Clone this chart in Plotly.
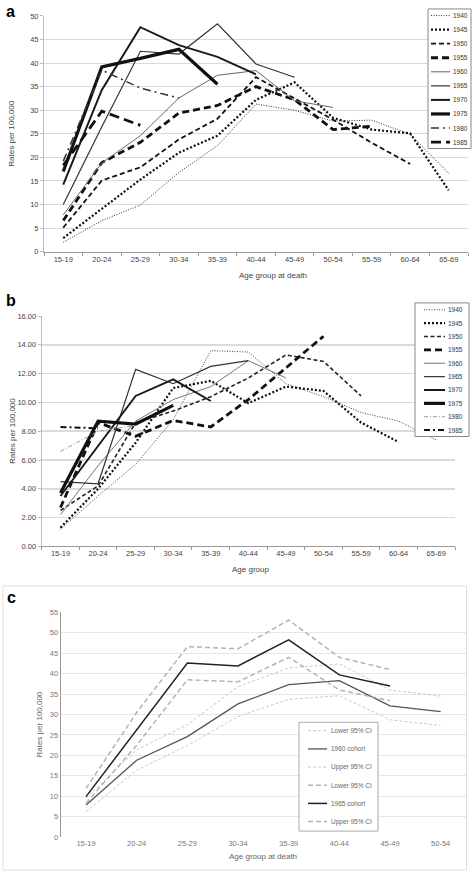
import plotly.graph_objects as go

W, H = 472, 877

# ---------------- data ----------------
ages = ["15-19", "20-24", "25-29", "30-34", "35-39", "40-44",
        "45-49", "50-54", "55-59", "60-64", "65-69"]
ages_c = ages[:8]
cohorts = ["1940", "1945", "1950", "1955", "1960",
           "1965", "1970", "1975", "1980", "1985"]

# panel a : rates per 100,000 by age group at death
a_1940 = [2.0, 6.6, 9.9, 16.8, 22.5, 31.3, 30.0, 27.7, 27.9, 24.9, 16.6]
a_1945 = [2.9, 9.1, 15.3, 21.0, 24.6, 32.2, 35.9, 28.4, 25.9, 25.1, 13.0]
a_1950 = [5.1, 15.1, 17.9, 23.8, 28.2, 37.0, 32.5, 28.0, 23.1, 18.6]
a_1955 = [6.6, 18.9, 23.2, 29.4, 31.0, 35.0, 32.2, 25.9, 26.6]
a_1960 = [7.8, 18.8, 24.6, 32.6, 37.4, 38.4, 32.0, 30.6]
a_1965 = [10.0, 26.5, 42.5, 41.9, 48.3, 39.8, 37.0]
a_1970 = [14.2, 34.3, 47.6, 43.8, 41.3, 37.6]
a_1975 = [17.0, 39.2, 41.0, 42.9, 35.5]
a_1980 = [19.2, 38.5, 34.7, 32.6]
a_1985 = [18.3, 29.8, 26.8]

# panel b : rates per 100,000 by age group
b_1940 = [1.2, 3.5, 5.7, 8.8, 13.6, 13.5, 11.3, 10.4, 9.3, 8.7, 7.4]
b_1945 = [1.3, 4.0, 7.2, 11.0, 11.5, 9.95, 11.1, 10.8, 8.6, 7.25]
b_1950 = [2.5, 4.2, 8.6, 9.4, 10.4, 11.7, 13.3, 12.85, 10.45]
b_1955 = [2.7, 8.6, 7.65, 8.75, 8.3, 10.2, 12.4, 14.6]
b_1960 = [2.2, 5.6, 8.7, 10.2, 11.1, 12.9, 11.7]
b_1965 = [4.5, 4.35, 12.3, 11.3, 12.5, 12.9]
b_1970 = [3.5, 7.0, 10.45, 11.6, 10.1]
b_1975 = [3.7, 8.7, 8.5, 9.8]
b_1980 = [6.6, 8.0, 8.4]
b_1985 = [8.3, 8.2]

# panel c : cohorts with 95% CI
c_names = ["Lower 95% CI", "1960 cohort", "Upper 95% CI",
           "Lower 95% CI", "1965 cohort", "Upper 95% CI"]
c_1960_lo = [6.2, 16.4, 22.4, 29.5, 33.7, 34.6, 28.7, 27.3]
c_1960 = [7.85, 18.8, 24.6, 32.6, 37.3, 38.3, 32.1, 30.7]
c_1960_hi = [9.5, 21.4, 27.5, 36.8, 41.4, 42.4, 36.0, 34.5]
c_1965_lo = [8.3, 22.5, 38.5, 38.0, 44.0, 36.0, 33.4]
c_1965 = [9.9, 26.3, 42.6, 41.9, 48.3, 39.7, 37.0]
c_1965_hi = [11.9, 30.5, 46.6, 46.1, 53.1, 44.0, 41.0]

series_a = [a_1940, a_1945, a_1950, a_1955, a_1960,
            a_1965, a_1970, a_1975, a_1980, a_1985]
series_b = [b_1940, b_1945, b_1950, b_1955, b_1960,
            b_1965, b_1970, b_1975, b_1980, b_1985]
series_c = [c_1960_lo, c_1960, c_1960_hi, c_1965_lo, c_1965, c_1965_hi]

# ---------------- styles ----------------
style_a = [
    dict(color="#333", width=1.0, dash="1px,1.5px"),
    dict(color="#111", width=2.2, dash="2px,2px"),
    dict(color="#111", width=1.8, dash="5px,3px"),
    dict(color="#111", width=2.8, dash="7px,4px"),
    dict(color="#666", width=1.0, dash="solid"),
    dict(color="#333", width=1.2, dash="solid"),
    dict(color="#1a1a1a", width=2.0, dash="solid"),
    dict(color="#111", width=3.2, dash="solid"),
    dict(color="#333", width=1.5, dash="8px,4px,2px,4px"),
    dict(color="#111", width=2.8, dash="10px,5px"),
]
style_b = [
    dict(color="#444", width=1.0, dash="1px,1.5px"),
    dict(color="#111", width=2.2, dash="2px,2px"),
    dict(color="#222", width=1.6, dash="4px,2.5px"),
    dict(color="#111", width=2.8, dash="7px,4px"),
    dict(color="#777", width=1.0, dash="solid"),
    dict(color="#333", width=1.2, dash="solid"),
    dict(color="#1a1a1a", width=2.0, dash="solid"),
    dict(color="#111", width=3.2, dash="solid"),
    dict(color="#999", width=1.0, dash="4px,2px,1px,2px"),
    dict(color="#111", width=2.0, dash="6px,3px,2px,3px"),
]
style_c = [
    dict(color="#c9c9c9", width=1.0, dash="3px,2px"),
    dict(color="#555", width=1.3, dash="solid"),
    dict(color="#c9c9c9", width=1.0, dash="3px,2px"),
    dict(color="#b3b3b3", width=1.5, dash="5px,3px"),
    dict(color="#222", width=1.5, dash="solid"),
    dict(color="#b3b3b3", width=1.5, dash="5px,3px"),
]

FONT = "Arial, Liberation Sans, sans-serif"


def px(x):
    return x / W


def py(y):
    return 1 - y / H


fig = go.Figure()

for name, vals, st in zip(cohorts, series_a, style_a):
    fig.add_trace(go.Scatter(x=ages[:len(vals)], y=vals, mode="lines",
                             line=st, name=name, showlegend=False,
                             xaxis="x", yaxis="y"))

for name, vals, st in zip(cohorts, series_b, style_b):
    fig.add_trace(go.Scatter(x=ages[:len(vals)], y=vals, mode="lines",
                             line=st, name=name, showlegend=False,
                             xaxis="x2", yaxis="y2"))

for name, vals, st in zip(c_names, series_c, style_c):
    fig.add_trace(go.Scatter(x=ages_c[:len(vals)], y=vals, mode="lines",
                             line=st, name=name, showlegend=False,
                             xaxis="x3", yaxis="y3"))

tickf = dict(family=FONT, size=7.5, color="#444")
tickc = dict(family=FONT, size=7.5, color="#777")

fig.update_layout(
    width=W, height=H, autosize=False,
    margin=dict(l=0, r=0, t=0, b=0),
    paper_bgcolor="white", plot_bgcolor="white",
    font=dict(family=FONT),
    showlegend=False,
    xaxis=dict(domain=[px(44), px(468)], anchor="y", type="category",
               categoryorder="array", categoryarray=ages, range=[-0.5, 10.5],
               showline=True, linecolor="#999", ticks="outside",
               tickson="boundaries", ticklen=3, tickcolor="#999",
               tickfont=tickf, showgrid=False, zeroline=False),
    yaxis=dict(domain=[py(250.3), py(12)], anchor="x", range=[0, 50], dtick=5,
               showgrid=True, gridcolor="#dadada", showline=True,
               linecolor="#bbb", ticks="outside", ticklen=3, tickcolor="#bbb",
               tickfont=tickf, zeroline=False),
    xaxis2=dict(domain=[px(41.7), px(455)], anchor="y2", type="category",
                categoryorder="array", categoryarray=ages, range=[-0.5, 10.5],
                showline=True, linecolor="#999", ticks="outside",
                tickson="boundaries", ticklen=3, tickcolor="#999",
                tickfont=tickf, showgrid=False, zeroline=False),
    yaxis2=dict(domain=[py(548), py(315.3)], anchor="x2", range=[0, 16], dtick=2,
                tickformat=".2f", showgrid=True, gridcolor="#dadada",
                gridwidth=1.5, showline=True, linecolor="#bbb",
                ticks="outside", ticklen=3, tickcolor="#bbb",
                tickfont=tickf, zeroline=False),
    xaxis3=dict(domain=[px(60.7), px(466)], anchor="y3", type="category",
                categoryorder="array", categoryarray=ages_c, range=[-0.5, 7.5],
                showline=False, ticks="", tickfont=tickc, showgrid=False,
                zeroline=False),
    yaxis3=dict(domain=[py(841.7), py(614.7)], anchor="x3", range=[0, 55],
                dtick=5, showgrid=True, gridcolor="#e6e6e6", showline=True,
                linecolor="#999", ticks="", tickfont=tickc, zeroline=False),
)

shapes = []
annotations = []

# panel c frame
shapes.append(dict(type="rect", xref="paper", yref="paper",
                   x0=px(3), x1=px(466.5), y0=py(875), y1=py(588),
                   line=dict(color="#dddddd", width=1), layer="below"))


def manual_legend(names, box, x_line, x_text, y0, step, styles,
                  border="#888", tcolor="#333", tsize=6.5):
    shapes.append(dict(type="rect", xref="paper", yref="paper",
                       x0=px(box[0]), x1=px(box[1]), y0=py(box[3]), y1=py(box[2]),
                       line=dict(color=border, width=1), fillcolor="white",
                       layer="above"))
    for i, (name, st) in enumerate(zip(names, styles)):
        yy = py(y0 + i * step)
        shapes.append(dict(type="line", xref="paper", yref="paper",
                           x0=px(x_line[0]), x1=px(x_line[1]), y0=yy, y1=yy,
                           line=st, layer="above"))
        annotations.append(dict(text=name, xref="paper", yref="paper",
                                x=px(x_text), y=yy, xanchor="left",
                                yanchor="middle", showarrow=False,
                                font=dict(family=FONT, size=tsize, color=tcolor)))


manual_legend(cohorts, (428, 471, 5, 146), (431, 450), 450.5, 11.7, 14.2, style_a)
manual_legend(cohorts, (415, 469, 302, 437), (424, 445), 445.5, 309, 13.5, style_b)
manual_legend(c_names, (299, 378, 725.7, 835.7), (308, 327), 328.5, 734.3, 18.35,
              style_c, border="#aaa", tcolor="#666", tsize=6.5)


def note(text, x, y, size=8, color="#444", angle=0, bold=False):
    annotations.append(dict(text=("<b>%s</b>" % text) if bold else text,
                            xref="paper", yref="paper", x=px(x), y=py(y),
                            xanchor="center", yanchor="middle",
                            showarrow=False, textangle=angle,
                            font=dict(family=FONT, size=size, color=color)))


note("a", 10.5, 7.5, size=16, color="#000", bold=True)
note("b", 11, 300, size=16, color="#000", bold=True)
note("c", 11, 599.5, size=16, color="#000", bold=True)
note("Rates per 100,000", 12, 131, angle=-90)
note("Age group at death", 273, 274)
note("Rates per 100,000", 12, 431.5, angle=-90)
note("Age group", 250, 571)
note("Rates per 100,000", 40, 728, color="#666", angle=-90)
note("Age group at death", 263, 861.7, color="#666")

fig.update_layout(shapes=shapes, annotations=annotations)

fig.write_html("out.html",
               config={"displayModeBar": False, "staticPlot": True},
               post_script="document.body.style.margin='0';"
                           "document.body.style.overflow='hidden';")
